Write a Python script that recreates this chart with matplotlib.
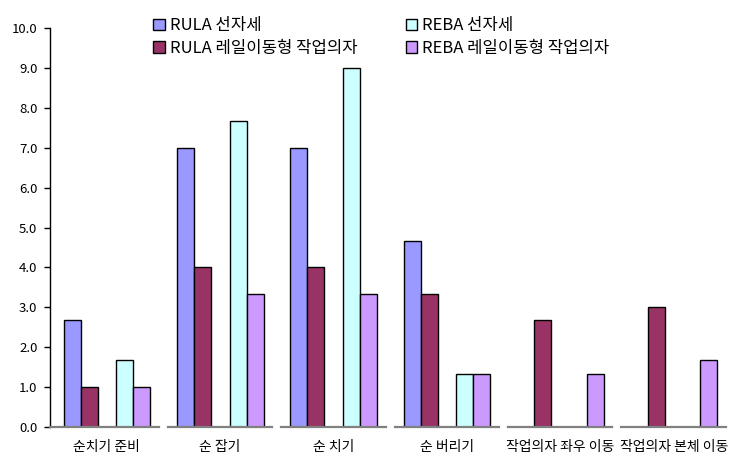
import numpy as np
import matplotlib.pyplot as plt

plt.rcParams['font.family'] = ['Noto Sans CJK KR', 'DejaVu Sans']

categories = ['순치기 준비', '순 잡기', '순 치기', '순 버리기', '작업의자 좌우 이동', '작업의자 본체 이동']
series_names = ['RULA 선자세', 'RULA 레일이동형 작업의자', 'REBA 선자세', 'REBA 레일이동형 작업의자']
rula_stand = [2.67, 7.0, 7.0, 4.67, 0, 0]
rula_chair = [1.0, 4.0, 4.0, 3.33, 2.67, 3.0]
reba_stand = [1.67, 7.67, 9.0, 1.33, 0, 0]
reba_chair = [1.0, 3.33, 3.33, 1.33, 1.33, 1.67]
yticks = [0, 1, 2, 3, 4, 5, 6, 7, 8, 9, 10]

colors = ['#9999FF', '#993366', '#CCFFFF', '#CC99FF']
offsets = [-0.305, -0.155, 0.16, 0.31]
width = 0.15

fig = plt.figure(figsize=(7.34, 4.57), dpi=100)
ax = fig.add_axes([0.068, 0.0656, 0.927, 0.873])

x = np.arange(len(categories))
handles = []
for vals, off, c, name in zip([rula_stand, rula_chair, reba_stand, reba_chair], offsets, colors, series_names):
    vals = np.array(vals)
    b = ax.bar(x + off, vals, width, color=c, edgecolor='black', linewidth=1.0, label=name, zorder=2)
    # zero-valued bars are not drawn
    for rect, v in zip(b, vals):
        if v == 0:
            rect.set_visible(False)
    handles.append(b)

# segmented baseline
for i in range(len(categories)):
    left = i - 0.5 if i == 0 else i - 0.5 + 0.04
    right = i + 0.5 - 0.04
    ax.plot([left, right], [0, 0], color='#808080', linewidth=1.6, zorder=3, clip_on=False)

ax.set_xlim(-0.5, len(categories) - 0.5)
ax.set_ylim(0, 10)
ax.set_yticks(yticks)
ax.set_yticklabels(['%.1f' % t for t in yticks], fontsize=9.5)
ax.set_xticks(x)
ax.set_xticklabels(categories, fontsize=10)
ax.tick_params(axis='x', length=0, pad=9)
ax.tick_params(axis='y', length=4, width=1, direction='out', pad=5)

for s in ['top', 'right', 'bottom']:
    ax.spines[s].set_visible(False)
ax.spines['left'].set_linewidth(1.0)

leg = fig.legend(handles, series_names,
                 ncol=2, loc='upper left', bbox_to_anchor=(0.188, 0.995),
                 frameon=False, fontsize=12, handlelength=0.7, handleheight=0.7,
                 handletextpad=0.3, columnspacing=2.9, labelspacing=0.35)

fig.savefig('out.png', dpi=100)
